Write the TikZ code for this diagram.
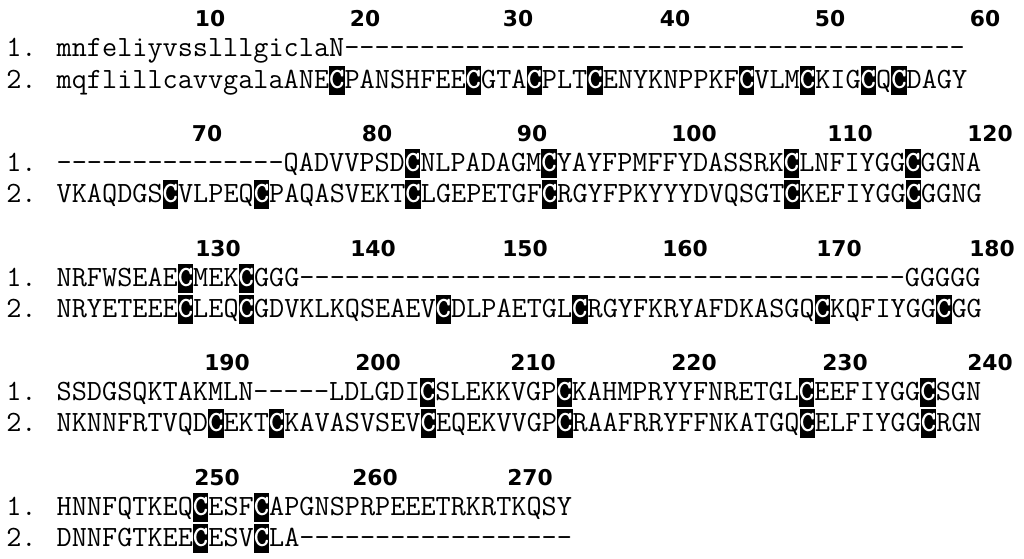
\documentclass[tikz,border=0pt]{standalone}
\usepackage{fontspec}
\newfontfamily\numfont{DejaVu Sans}
\usepackage{tikz}
\tikzstyle{seq}=[anchor=base west,inner sep=0pt,font=\fontsize{20.9}{22}\selectfont\ttfamily]
\tikzstyle{num}=[anchor=base,inner sep=0pt,font=\fontsize{15.5}{18}\selectfont\numfont\bfseries]
\newcommand{\cys}{{\setlength{\fboxsep}{0pt}\colorbox{black}{\rule[-0.24em]{0pt}{1.0em}\makebox[0.525em]{\color{white}\bfseries C}}}}

\begin{document}
\begin{tikzpicture}[x=0.025cm,y=-0.025cm]
	\useasboundingbox (0,0) rectangle (1024,558);
	% position numbers
	\foreach \x/\t in {210/10,365/20,518/30,675/40,830/50,985/60} \node [style=num] (n\t) at (\x,27) {\t};
	\foreach \x/\t in {207/70,377/80,532/90,694/100,850/110,990/120} \node [style=num] (n\t) at (\x,141) {\t};
	\foreach \x/\t in {218/130,373/140,525/150,685/160,839/170,992/180} \node [style=num] (n\t) at (\x,256) {\t};
	\foreach \x/\t in {227/190,378/200,533/210,694/220,845/230,990/240} \node [style=num] (n\t) at (\x,370) {\t};
	\foreach \x/\t in {217/250,375/260,530/270} \node [style=num] (n\t) at (\x,485) {\t};

	% block 1
	\node [style=seq] (a1) at (6,57) {1. mnfeliyvsslllgiclaN-----------------------------------------};
	\node [style=seq] (a2) at (6,88) {2. mqflillcavvgalaANE\cys PANSHFEE\cys GTA\cys PLT\cys ENYKNPPKF\cys VLM\cys KIG\cys Q\cys DAGY};
	% block 2
	\node [style=seq] (b1) at (6,171) {1. ---------------QADVVPSD\cys NLPADAGM\cys YAYFPMFFYDASSRK\cys LNFIYGG\cys GGNA};
	\node [style=seq] (b2) at (6,202) {2. VKAQDGS\cys VLPEQ\cys PAQASVEKT\cys LGEPETGF\cys RGYFPKYYYDVQSGT\cys KEFIYGG\cys GGNG};
	% block 3
	\node [style=seq] (c1) at (6,286) {1. NRFWSEAE\cys MEK\cys GGG----------------------------------------GGGGG};
	\node [style=seq] (c2) at (6,317) {2. NRYETEEE\cys LEQ\cys GDVKLKQSEAEV\cys DLPAETGL\cys RGYFKRYAFDKASGQ\cys KQFIYGG\cys GG};
	% block 4
	\node [style=seq] (d1) at (6,400) {1. SSDGSQKTAKMLN-----LDLGDI\cys SLEKKVGP\cys KAHMPRYYFNRETGL\cys EEFIYGG\cys SGN};
	\node [style=seq] (d2) at (6,431) {2. NKNNFRTVQD\cys EKT\cys KAVASVSEV\cys EQEKVVGP\cys RAAFRRYFFNKATGQ\cys ELFIYGG\cys RGN};
	% block 5
	\node [style=seq] (e1) at (6,515) {1. HNNFQTKEQ\cys ESF\cys APGNSPRPEEETRKRTKQSY};
	\node [style=seq] (e2) at (6,546) {2. DNNFGTKEE\cys ESV\cys LA------------------};
\end{tikzpicture}
\end{document}
